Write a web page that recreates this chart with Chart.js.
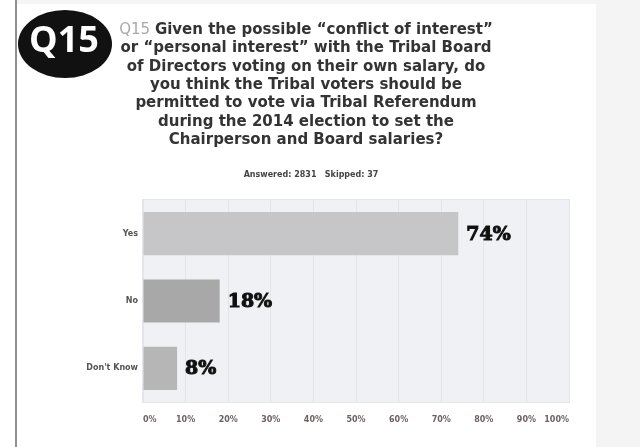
<!DOCTYPE html>
<html>
<head>
<meta charset="utf-8">
<script src="https://cdn.jsdelivr.net/npm/chart.js@4"></script>
<style>
html,body{margin:0;padding:0;background:#fff;}
#wrap{width:640px;height:447px;position:relative;}
</style>
</head>
<body>
<div id="wrap"><canvas id="c" width="640" height="447"></canvas></div>
<script>
const categories = ["Yes", "No", "Don't Know"];
const values = [74, 18, 8];
const valueLabels = ["74%", "18%", "8%"];
const barColors = ["#c6c6c8", "#a8a8a8", "#b6b6b6"];
const titleLines = [
  "Given the possible \u201Cconflict of interest\u201D",
  "or \u201Cpersonal interest\u201D with the Tribal Board",
  "of Directors voting on their own salary, do",
  "you think the Tribal voters should be",
  "permitted to vote via Tribal Referendum",
  "during the 2014 election to set the",
  "Chairperson and Board salaries?"
];
const subtitle = "Answered: 2831   Skipped: 37";

const TF = "'DejaVu Sans'";

const decor = {
  id: 'decor',
  beforeDraw(chart) {
    const ctx = chart.ctx;
    const a = chart.chartArea;
    ctx.save();
    ctx.fillStyle = '#ffffff';
    ctx.fillRect(0, 0, 640, 447);
    ctx.fillStyle = '#f4f4f4';
    ctx.fillRect(596, 0, 44, 447);
    ctx.fillStyle = '#f5f5f5';
    ctx.fillRect(17, 0, 579, 4);
    ctx.fillStyle = '#8e8e8e';
    ctx.fillRect(15, 0, 2, 447);
    ctx.fillStyle = '#eff1f5';
    ctx.fillRect(a.left, a.top, a.right - a.left, a.bottom - a.top);
    ctx.strokeStyle = '#e4e6ea';
    ctx.lineWidth = 1;
    ctx.strokeRect(a.left - 0.5, a.top - 0.5, a.right - a.left + 1, a.bottom - a.top + 1);
    ctx.restore();
  },
  afterDraw(chart) {
    const ctx = chart.ctx;
    ctx.save();
    ctx.fillStyle = '#111111';
    ctx.beginPath();
    ctx.ellipse(65, 44, 47, 34, 0, 0, Math.PI * 2);
    ctx.fill();
    ctx.fillStyle = '#ffffff';
    ctx.font = "bold 36px 'Open Sans'";
    ctx.textAlign = 'center';
    ctx.textBaseline = 'middle';
    ctx.fillText('Q15', 64, 42);
    ctx.textBaseline = 'middle';
    const cx = 306;
    const y0 = 30, lh = 18.4;
    titleLines.forEach((line, i) => {
      const y = y0 + i * lh;
      if (i === 0) {
        ctx.font = "15px " + TF;
        const pre = 'Q15 ';
        const wPre = ctx.measureText(pre).width;
        ctx.font = "bold 15px " + TF;
        const wLine = ctx.measureText(line).width;
        const start = cx - (wPre + wLine) / 2;
        ctx.textAlign = 'left';
        ctx.font = "15px " + TF;
        ctx.fillStyle = '#a9a9a9';
        ctx.fillText(pre, start, y);
        ctx.font = "bold 15px " + TF;
        ctx.fillStyle = '#333333';
        ctx.fillText(line, start + wPre, y);
      } else {
        ctx.textAlign = 'center';
        ctx.fillStyle = '#333333';
        ctx.font = "bold 15px " + TF;
        ctx.fillText(line, cx, y);
      }
    });
    ctx.font = "bold 8px " + TF;
    ctx.fillStyle = '#444444';
    ctx.textAlign = 'center';
    ctx.fillText(subtitle, 311, 175);
    ctx.restore();
  },
  afterDatasetsDraw(chart) {
    const ctx = chart.ctx;
    const meta = chart.getDatasetMeta(0);
    ctx.save();
    ctx.font = "bold 19px 'DejaVu Serif'";
    ctx.fillStyle = '#111111';
    ctx.strokeStyle = '#111111';
    ctx.lineWidth = 1;
    ctx.textAlign = 'left';
    ctx.textBaseline = 'middle';
    meta.data.forEach((bar, i) => {
      ctx.fillText(valueLabels[i], bar.x + 8, bar.y + 1);
      ctx.strokeText(valueLabels[i], bar.x + 8, bar.y + 1);
    });
    ctx.restore();
  }
};

new Chart(document.getElementById('c'), {
  type: 'bar',
  data: {
    labels: categories,
    datasets: [{
      data: values,
      backgroundColor: barColors,
      borderWidth: 0,
      barPercentage: 0.64,
      categoryPercentage: 1
    }]
  },
  options: {
    indexAxis: 'y',
    responsive: false,
    animation: false,
    devicePixelRatio: 1,
    layout: { padding: { top: 200, right: 71, bottom: 0, left: 0 } },
    plugins: { legend: { display: false }, title: { display: false }, tooltip: { enabled: false } },
    scales: {
      x: {
        min: 0, max: 100,
        grid: { color: '#e2e5ea', drawTicks: false },
        border: { display: false },
        ticks: {
          stepSize: 10,
          align: 'inner',
          padding: 13,
          color: '#6b6262',
          font: { family: 'DejaVu Sans', size: 8, weight: 'bold' },
          callback: v => v + '%'
        },
        afterFit(s) { s.height = 45; }
      },
      y: {
        grid: { display: false, drawTicks: false },
        border: { display: false },
        ticks: {
          color: '#555555',
          padding: 5,
          font: { family: 'DejaVu Sans', size: 8, weight: 'bold' }
        },
        afterFit(s) { s.width = 143; }
      }
    }
  },
  plugins: [decor]
});
</script>
</body>
</html>
